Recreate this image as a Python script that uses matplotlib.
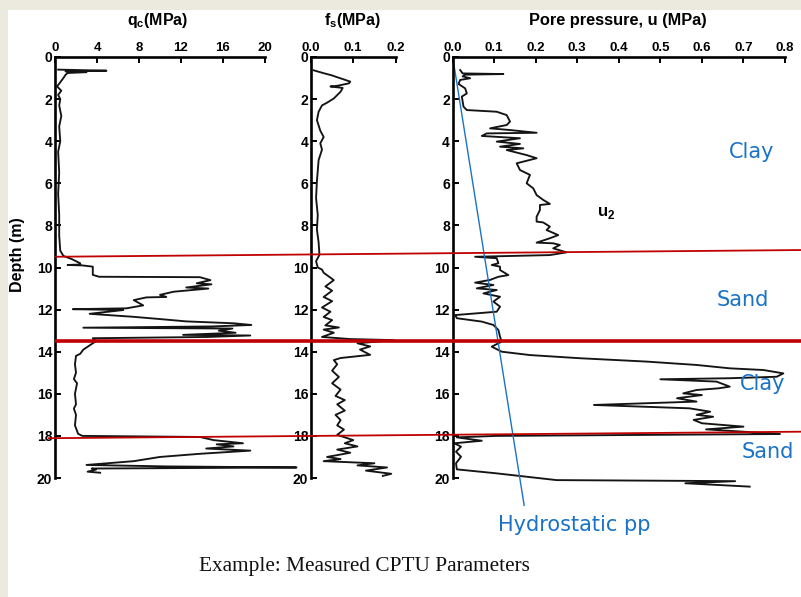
import matplotlib
matplotlib.use("Agg")
import matplotlib.pyplot as plt
from matplotlib.patches import Rectangle

# ---------------- data ----------------
qc_depth = [0.60, 0.65, 0.68, 0.72, 0.76, 0.85, 1.0, 1.2, 1.4, 1.6, 1.8, 2.0, 2.3, 2.8, 3.3, 4.0,
            4.5, 5.5, 6.5, 7.5, 8.5, 9.2, 9.45, 9.6, 9.8, 9.86, 9.88, 9.9, 9.96, 10.35, 10.44,
            10.46, 10.6, 10.75, 10.8, 10.95, 11.0, 11.15, 11.3, 11.4, 11.42, 11.55, 11.8, 11.94,
            11.98, 12.02, 12.2, 12.34, 12.45, 12.56, 12.65, 12.73, 12.8, 12.86, 12.9, 13.0, 13.1,
            13.2, 13.23, 13.3, 13.36, 13.5, 13.7, 13.9, 14.1, 14.2, 14.6, 15.0, 15.3, 15.5, 16.0,
            16.5, 16.7, 17.0, 17.5, 17.9, 18.0, 18.05, 18.2, 18.35, 18.4, 18.5, 18.6, 18.7, 18.85,
            19.0, 19.2, 19.38, 19.45, 19.5, 19.55, 19.6, 19.7, 19.75]
qc_val = [0.3, 4.9, 1.0, 3.0, 1.2, 1.0, 0.8, 0.5, 0.2, 0.6, 0.3, 0.5, 0.4, 0.6, 0.4, 0.5,
          0.3, 0.4, 0.3, 0.4, 0.4, 0.5, 0.8, 1.6, 2.4, 2.4, 1.2, 2.6, 3.6, 3.6, 4.2,
          13.8, 14.8, 13.5, 14.9, 12.5, 14.6, 11.3, 10.0, 10.6, 8.7, 7.5, 8.4, 6.8,
          1.7, 6.5, 3.3, 7.4, 10.0, 12.5, 17.0, 18.7, 15.0, 2.7, 16.9, 15.6, 17.2,
          12.2, 18.6, 14.5, 3.6, 3.9, 3.3, 2.7, 2.4, 2.0, 1.9, 2.0, 1.8, 2.1, 1.9,
          2.0, 1.8, 2.0, 1.9, 2.2, 2.6, 13.8, 15.1, 17.9, 15.4, 17.0, 14.4, 18.6, 13.8,
          10.0, 7.5, 3.0, 10.6, 23.0, 3.5, 3.9, 3.1, 4.3]

fs_depth = [0.63, 0.77, 0.87, 0.98, 1.17, 1.25, 1.37, 1.40, 1.47, 1.65, 1.97, 2.17, 2.3, 2.6,
            3.0, 3.5, 3.8, 4.1, 4.4, 4.9, 5.9, 6.7, 7.5, 8.2, 8.8, 9.4, 9.7, 10.0, 10.1, 10.25,
            10.6, 10.9, 11.1, 11.4, 11.6, 11.9, 12.1, 12.35, 12.5, 12.75, 12.85, 12.95, 13.1,
            13.3, 13.4, 13.45, 13.6, 13.75, 13.9, 14.15, 14.3, 14.4, 14.6, 14.9, 15.2, 15.5,
            15.8, 16.1, 16.3, 16.5, 16.8, 17.0, 17.25, 17.5, 17.7, 17.95, 18.2, 18.35, 18.5,
            18.65, 18.8, 19.0, 19.1, 19.2, 19.3, 19.4, 19.5, 19.65, 19.8, 19.9]
fs_val = [0.006, 0.03, 0.049, 0.065, 0.093, 0.09, 0.062, 0.046, 0.075, 0.07, 0.054, 0.038, 0.026,
          0.018, 0.014, 0.022, 0.03, 0.022, 0.026, 0.018, 0.014, 0.012, 0.016, 0.014, 0.018, 0.02,
          0.012, 0.016, 0.026, 0.03, 0.054, 0.034, 0.05, 0.03, 0.05, 0.026, 0.046, 0.03, 0.05,
          0.034, 0.066, 0.03, 0.054, 0.026, 0.093, 0.196, 0.11, 0.14, 0.116, 0.14, 0.07, 0.054,
          0.062, 0.05, 0.066, 0.05, 0.07, 0.058, 0.08, 0.062, 0.08, 0.058, 0.07, 0.062, 0.078,
          0.062, 0.1, 0.08, 0.11, 0.062, 0.093, 0.038, 0.07, 0.03, 0.15, 0.11, 0.18, 0.13, 0.19,
          0.17]

u_depth = [0.62, 0.78, 0.81, 0.84, 0.92, 1.01, 1.09, 1.28, 1.49, 1.73, 1.88, 2.36, 2.52, 2.60,
           2.76, 3.07, 3.23, 3.39, 3.47, 3.60, 3.63, 3.75, 3.86, 4.02, 4.13, 4.26, 4.34, 4.42,
           4.66, 4.81, 5.05, 5.37, 5.60, 6.00, 6.24, 6.56, 6.79, 6.98, 7.03, 7.27, 7.59, 7.82,
           7.86, 8.06, 8.22, 8.46, 8.61, 8.82, 8.85, 8.93, 9.09, 9.28, 9.41, 9.49, 9.56, 9.80,
           9.88, 9.96, 10.12, 10.36, 10.44, 10.59, 10.72, 10.83, 10.99, 11.07, 11.23, 11.39,
           11.62, 11.86, 12.10, 12.26, 12.41, 12.57, 12.73, 12.97, 13.29, 13.52, 13.76, 14.00,
           14.16, 14.31, 14.47, 14.63, 14.79, 14.87, 15.03, 15.19, 15.26, 15.31, 15.42, 15.66,
           15.74, 15.82, 15.98, 16.06, 16.21, 16.37, 16.53, 16.69, 16.85, 17.00, 17.09, 17.24,
           17.40, 17.56, 17.69, 17.91, 18.00, 18.07, 18.23, 18.35, 18.51, 18.75, 18.99, 19.30,
           19.59, 19.78, 20.10, 20.15, 20.25, 20.41]
u_val = [0.018, 0.024, 0.122, 0.03, 0.024, 0.042, 0.018, 0.014, 0.030, 0.034, 0.022, 0.026, 0.034,
         0.106, 0.130, 0.138, 0.130, 0.090, 0.138, 0.202, 0.082, 0.070, 0.162, 0.106, 0.162, 0.114,
         0.170, 0.130, 0.178, 0.202, 0.154, 0.162, 0.186, 0.178, 0.194, 0.202, 0.218, 0.234, 0.210,
         0.210, 0.202, 0.202, 0.218, 0.234, 0.226, 0.254, 0.234, 0.202, 0.242, 0.258, 0.242, 0.274,
         0.234, 0.054, 0.106, 0.110, 0.094, 0.114, 0.114, 0.134, 0.110, 0.090, 0.054, 0.098, 0.058,
         0.106, 0.074, 0.114, 0.098, 0.114, 0.106, 0.006, 0.010, 0.070, 0.098, 0.110, 0.114, 0.118,
         0.094, 0.118, 0.186, 0.306, 0.467, 0.587, 0.667, 0.748, 0.796, 0.780, 0.667, 0.500, 0.635,
         0.667, 0.640, 0.587, 0.555, 0.600, 0.540, 0.587, 0.340, 0.570, 0.620, 0.587, 0.627, 0.580,
         0.600, 0.700, 0.610, 0.788, 0.106, 0.010, 0.070, 0.004, 0.020, 0.008, 0.020, 0.008, 0.010,
         0.106, 0.250, 0.680, 0.560, 0.715]

hydro_depth = [0.0, 21.3]
hydro_u = [0.0, 0.172]

# layer boundaries: depth at left end and right end of each drawn line
boundary_left = [9.49, 13.48, 18.11]
boundary_right = [9.17, 13.48, 17.80]
boundary_width = [1.3, 2.6, 1.3]

layer_labels = ["Clay", "Sand", "Clay", "Sand"]
layer_label_depth = [4.5, 11.55, 15.55, 18.75]

depth_ticks = [0, 2, 4, 6, 8, 10, 12, 14, 16, 18, 20]
qc_ticks = [0, 4, 8, 12, 16, 20]
fs_ticks = [0.0, 0.1, 0.2]
u_ticks = [0.0, 0.1, 0.2, 0.3, 0.4, 0.5, 0.6, 0.7, 0.8]

# ---------------- figure ----------------
plt.rcParams['font.family'] = ['Liberation Sans', 'DejaVu Sans']
plt.rcParams['mathtext.fontset'] = 'custom'
plt.rcParams['mathtext.rm'] = 'Liberation Sans:bold'
plt.rcParams['mathtext.bf'] = 'Liberation Sans:bold'

W, H = 801, 597
fig = plt.figure(figsize=(W / 100, H / 100), dpi=100)
fig.patch.set_facecolor('#ECE9DE')
bg = fig.add_axes([8 / W, 0, 1 - 8 / W, 1 - 10 / H], zorder=-10)
bg.axis('off')
bg.add_patch(Rectangle((0, 0), 1, 1, transform=bg.transAxes, facecolor='white',
                       edgecolor='none'))

ax_bottom = 1 - 478 / H
ax_height = (478 - 57) / H

def fx(px):
    return px / W

LINE = '#141414'
BLUE = '#1A73C6'
RED = '#C00000'

def setup(ax, ticks, ticklabels, xmax):
    ax.set_xlim(0, xmax)
    ax.set_ylim(20, 0)
    ax.set_facecolor('none')
    ax.spines['right'].set_visible(False)
    ax.spines['bottom'].set_visible(False)
    ax.spines['left'].set_linewidth(1.9)
    ax.spines['top'].set_linewidth(1.9)
    ax.xaxis.tick_top()
    ax.set_xticks(ticks)
    ax.set_xticklabels(ticklabels)
    ax.set_yticks(depth_ticks)
    ax.set_yticklabels([str(t) for t in depth_ticks])
    ax.tick_params(axis='x', top=True, bottom=False, labeltop=True, labelbottom=False,
                   direction='in', length=4, width=1.4, pad=2, labelsize=9.5)
    ax.tick_params(axis='y', left=True, direction='in', length=4, width=1.4, pad=2,
                   labelsize=10)
    for lab in ax.get_xticklabels() + ax.get_yticklabels():
        lab.set_fontweight('bold')

ax1 = fig.add_axes([fx(55), ax_bottom, fx(210), ax_height])
setup(ax1, qc_ticks, [str(t) for t in qc_ticks], 20)
ax1.plot(qc_val, qc_depth, color=LINE, lw=1.35, clip_on=False)

ax2 = fig.add_axes([fx(311), ax_bottom, fx(84.5), ax_height])
setup(ax2, fs_ticks, ['%.1f' % t for t in fs_ticks], 0.2)
ax2.plot(fs_val, fs_depth, color=LINE, lw=1.35, clip_on=False)

ax3 = fig.add_axes([fx(452.7), ax_bottom, fx(332.3), ax_height])
setup(ax3, u_ticks, ['%.1f' % t for t in u_ticks], 0.8)
ax3.plot(u_val, u_depth, color=LINE, lw=1.35, clip_on=False)
ax3.plot(hydro_u, hydro_depth, color=BLUE, lw=1.0, clip_on=False)

# titles
fig.text(fx(158), 1 - 20 / H, r'q$_{\mathbf{c}}$(MPa)', ha='center', va='center',
         fontsize=11.5, fontweight='bold')
fig.text(fx(352), 1 - 20 / H, r'f$_{\mathbf{s}}$(MPa)', ha='center', va='center',
         fontsize=11.5, fontweight='bold')
fig.text(fx(618), 1 - 20 / H, 'Pore pressure, u (MPa)', ha='center', va='center',
         fontsize=11.8, fontweight='bold')
fig.text(fx(18), 1 - 255 / H, 'Depth (m)', rotation=90, ha='center', va='center',
         fontsize=11.5, fontweight='bold')
fig.text(fx(606), 1 - 213 / H, r'u$_{\mathbf{2}}$', ha='center', va='center',
         fontsize=12, fontweight='bold')

# overlay for layer boundaries and annotations
ov = fig.add_axes([0, ax_bottom, 1, ax_height])
ov.set_xlim(0, W)
ov.set_ylim(20, 0)
ov.axis('off')
starts = [55, 55, 48]
for dl, dr, lw, x0 in zip(boundary_left, boundary_right, boundary_width, starts):
    ov.plot([x0, W], [dl, dr], color=RED, lw=lw, clip_on=False, solid_capstyle='butt')

label_x = [752, 743, 763, 768]
for txt, d, x in zip(layer_labels, layer_label_depth, label_x):
    ov.text(x, d, txt, color=BLUE, fontsize=15, ha='center', va='center',
            family='DejaVu Sans')
ov.text(574, 22.25, 'Hydrostatic pp', color=BLUE, fontsize=15, ha='center', va='center',
        family='DejaVu Sans', clip_on=False)

fig.text(fx(364), 1 - 566 / H, 'Example: Measured CPTU Parameters', ha='center', va='center',
         fontsize=15.3, family='Liberation Serif', color='#111111')

fig.savefig('out.png', dpi=100, facecolor=fig.get_facecolor())
